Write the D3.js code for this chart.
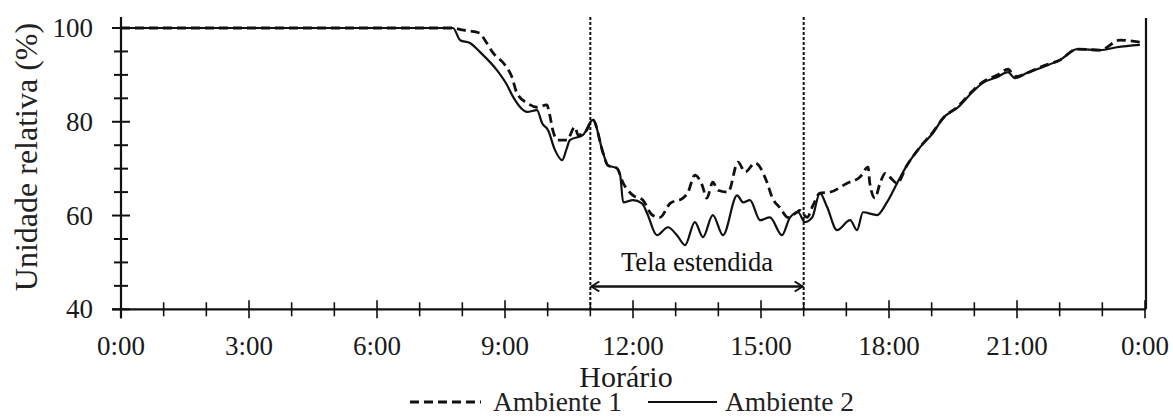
<!DOCTYPE html>
<html>
<head>
<meta charset="utf-8">
<script src="https://cdn.jsdelivr.net/npm/d3@7"></script>
<style>
  html, body { margin: 0; padding: 0; background: #fff; }
  svg { display: block; }
</style>
</head>
<body>
<svg id="chart" width="1173" height="419"></svg>
<script>
// ---- data (hours of day, relative humidity %) ----
const amb1Hours = [0, 7.78, 7.99, 8.41, 8.53, 8.72, 9.00, 9.16, 9.28, 9.52, 9.75, 9.98, 10.05, 10.12, 10.24, 10.45, 10.64, 10.71, 10.88, 11.06,
  11.30, 11.41, 11.62, 11.77, 12.00, 12.23, 12.45, 12.63, 12.87, 13.17, 13.29, 13.45, 13.62, 13.73, 13.87, 13.99, 14.23, 14.46, 14.63, 14.86,
  15.14, 15.26, 15.45, 15.63, 15.84, 15.91, 16.08, 16.22, 16.38, 16.62, 17.02, 17.32, 17.51, 17.55, 17.67, 17.79, 17.91, 18.02, 18.19,
  18.42, 18.73, 19.03, 19.27, 19.62, 19.95, 20.20, 20.53, 20.79, 20.95, 21.23, 21.61, 22.01, 22.41, 22.95, 23.41, 23.88];
const amb1Values = [100, 100, 99.6, 98.9, 97.4, 94.7, 92.1, 89.6, 86.1, 84.0, 83.1, 83.6, 81.4, 78.2, 76.1, 76.1, 78.9, 77.2, 77.8, 80.4,
  73.3, 70.7, 70.1, 66.9, 64.3, 63.3, 60.1, 59.6, 62.6, 63.7, 65.0, 68.6, 66.5, 63.7, 67.1, 65.4, 65.0, 71.4, 69.3, 71.2,
  67.1, 63.9, 61.6, 59.6, 60.7, 61.1, 59.6, 62.2, 64.8, 65.0, 66.9, 68.2, 70.3, 66.9, 63.7, 66.9, 69.0, 68.2, 66.9,
  70.7, 74.6, 77.8, 80.8, 83.3, 86.5, 88.5, 89.9, 91.2, 89.6, 90.4, 91.9, 93.2, 95.5, 95.3, 97.4, 97.0];

const amb2Hours = [0, 7.78, 7.95, 8.18, 8.41, 8.81, 9.05, 9.19, 9.52, 9.75, 9.87, 10.01, 10.17, 10.34, 10.45, 10.52, 10.83, 11.06,
  11.30, 11.41, 11.62, 11.70, 11.77, 12.00, 12.21, 12.33, 12.56, 12.82, 13.03, 13.22, 13.45, 13.64, 13.87, 14.11, 14.44, 14.58, 14.74, 14.98,
  15.21, 15.49, 15.68, 15.87, 16.03, 16.20, 16.38, 16.55, 16.78, 17.09, 17.25, 17.39, 17.72, 17.95, 18.19,
  18.42, 18.73, 19.03, 19.27, 19.62, 19.95, 20.20, 20.53, 20.79, 20.95, 21.23, 21.61, 22.01, 22.41, 22.95, 23.34, 23.88];
const amb2Values = [100, 100, 97.4, 96.8, 94.9, 91.0, 87.8, 85.3, 82.1, 82.5, 79.7, 78.2, 74.0, 71.8, 74.4, 76.1, 77.2, 80.4,
  73.3, 70.7, 70.1, 68.6, 62.8, 63.3, 62.6, 60.5, 55.8, 57.5, 55.8, 53.7, 58.6, 55.4, 60.1, 55.8, 64.3, 62.8, 63.3, 59.0,
  59.6, 55.8, 59.6, 60.7, 58.6, 59.6, 64.8, 61.8, 56.9, 59.0, 56.9, 60.7, 60.1, 62.8, 66.9,
  70.7, 74.6, 77.6, 80.8, 83.1, 86.3, 88.3, 89.5, 90.6, 89.3, 90.4, 91.7, 93.2, 95.5, 95.3, 95.9, 96.4];

const xTickValues = [0, 3, 6, 9, 12, 15, 18, 21, 24];
const xTickLabels = ["0:00", "3:00", "6:00", "9:00", "12:00", "15:00", "18:00", "21:00", "0:00"];
const yTickValues = [40, 60, 80, 100];
const screenHours = [11, 16];
const seriesNames = ["Ambiente 1", "Ambiente 2"];
const annotationText = "Tela estendida";
const xTitle = "Horário";
const yTitle = "Unidade relativa (%)";

// ---- drawing ----
const FONT = "'Liberation Serif'";
const svg = d3.select("#chart");
const x = d3.scaleLinear().domain([0, 24]).range([121, 1145]);
const y = d3.scaleLinear().domain([40, 100]).range([309.3, 28]);
const ink = "#111";

const x0 = x(0), x1 = x(24), yb = y(40), yTop = 17;

// minor/major ticks
const yMinor = d3.range(40, 100.1, 5);
svg.append("g").selectAll("line").data(yMinor).join("line")
  .attr("x1", d => x0 - (d % 20 === 0 ? 9 : 7))
  .attr("x2", d => x0 + (d % 20 === 0 ? 9 : 7))
  .attr("y1", d => y(d)).attr("y2", d => y(d))
  .attr("stroke", ink).attr("stroke-width", 2);

const xMinor = d3.range(0, 24.1, 1);
svg.append("g").selectAll("line").data(xMinor).join("line")
  .attr("x1", d => x(d)).attr("x2", d => x(d))
  .attr("y1", d => yb - (d % 3 === 0 ? 9 : 7))
  .attr("y2", d => yb + (d % 3 === 0 ? 9 : 7))
  .attr("stroke", ink).attr("stroke-width", 1.6);

// axis lines and right border
svg.append("line").attr("x1", x0).attr("x2", x0).attr("y1", yTop).attr("y2", yb + 9)
  .attr("stroke", ink).attr("stroke-width", 2.2);
svg.append("line").attr("x1", x0 - 9).attr("x2", x1 + 1).attr("y1", yb).attr("y2", yb)
  .attr("stroke", ink).attr("stroke-width", 2.2);
svg.append("line").attr("x1", x1 + 1).attr("x2", x1 + 1).attr("y1", 18).attr("y2", yb)
  .attr("stroke", ink).attr("stroke-width", 2.2);

function txt(sel) { return sel.style("font-family", FONT); }

// tick labels
txt(svg.append("g").selectAll("text").data(yTickValues).join("text"))
  .attr("x", 93).attr("y", d => y(d) + 9).attr("fill", "#1a1a1a")
  .attr("text-anchor", "end").attr("font-size", 27).text(d => d);
txt(svg.append("g").selectAll("text").data(xTickValues).join("text"))
  .attr("x", d => x(d)).attr("y", 355).attr("fill", "#1a1a1a")
  .attr("text-anchor", "middle").attr("font-size", 27)
  .text((d, i) => xTickLabels[i]);

// titles
txt(svg.append("text")).attr("x", 626).attr("y", 387).attr("text-anchor", "middle").attr("fill", "#1a1a1a")
  .attr("font-size", 30).text(xTitle);
txt(svg.append("text")).attr("transform", "translate(37,157) rotate(-90)").attr("fill", "#222")
  .attr("text-anchor", "middle").attr("font-size", 32).text(yTitle);

// vertical dotted lines
svg.append("g").selectAll("line").data(screenHours).join("line")
  .attr("x1", d => x(d)).attr("x2", d => x(d))
  .attr("y1", 17).attr("y2", yb)
  .attr("stroke", ink).attr("stroke-width", 2).attr("stroke-dasharray", "3,2");

// series
const line = d3.line().x(d => x(d[0])).y(d => y(d[1])).curve(d3.curveMonotoneX);
const s1 = amb1Hours.map((h, i) => [h, amb1Values[i]]);
const s2 = amb2Hours.map((h, i) => [h, amb2Values[i]]);
svg.append("path").datum(s2).attr("d", line).attr("fill", "none")
  .attr("stroke", ink).attr("stroke-width", 2.2);
svg.append("path").datum(s1).attr("d", line).attr("fill", "none")
  .attr("stroke", ink).attr("stroke-width", 2.8).attr("stroke-dasharray", "9,5");

// double arrow
const defs = svg.append("defs");
["start", "end"].forEach(k => {
  defs.append("marker").attr("id", "arr-" + k)
    .attr("viewBox", "0 0 12 12").attr("refX", k === "end" ? 11 : 1).attr("refY", 6)
    .attr("markerWidth", 12).attr("markerHeight", 12).attr("markerUnits", "userSpaceOnUse")
    .attr("orient", "auto")
    .append("path")
    .attr("d", k === "end" ? "M3,1 L11,6 L3,11" : "M9,1 L1,6 L9,11")
    .attr("fill", "none").attr("stroke", ink).attr("stroke-width", 2);
});
svg.append("line").attr("x1", x(screenHours[0]) + 1).attr("x2", x(screenHours[1]) - 1)
  .attr("y1", 286.5).attr("y2", 286.5)
  .attr("stroke", ink).attr("stroke-width", 2.4)
  .attr("marker-start", "url(#arr-start)").attr("marker-end", "url(#arr-end)");
txt(svg.append("text")).attr("x", (x(screenHours[0]) + x(screenHours[1])) / 2).attr("y", 271)
  .attr("text-anchor", "middle").attr("font-size", 26.5).attr("fill", "#111").text(annotationText);

// legend
const lg = svg.append("g");
lg.append("line").attr("x1", 410).attr("x2", 481).attr("y1", 402).attr("y2", 402)
  .attr("stroke", ink).attr("stroke-width", 2.8).attr("stroke-dasharray", "9,5");
txt(lg.append("text")).attr("x", 493).attr("y", 411).attr("font-size", 27.5).attr("fill", "#222").text(seriesNames[0]);
lg.append("line").attr("x1", 648).attr("x2", 717).attr("y1", 402).attr("y2", 402)
  .attr("stroke", ink).attr("stroke-width", 2.2);
txt(lg.append("text")).attr("x", 725).attr("y", 411).attr("font-size", 27.5).attr("fill", "#222").text(seriesNames[1]);
</script>
</body>
</html>
